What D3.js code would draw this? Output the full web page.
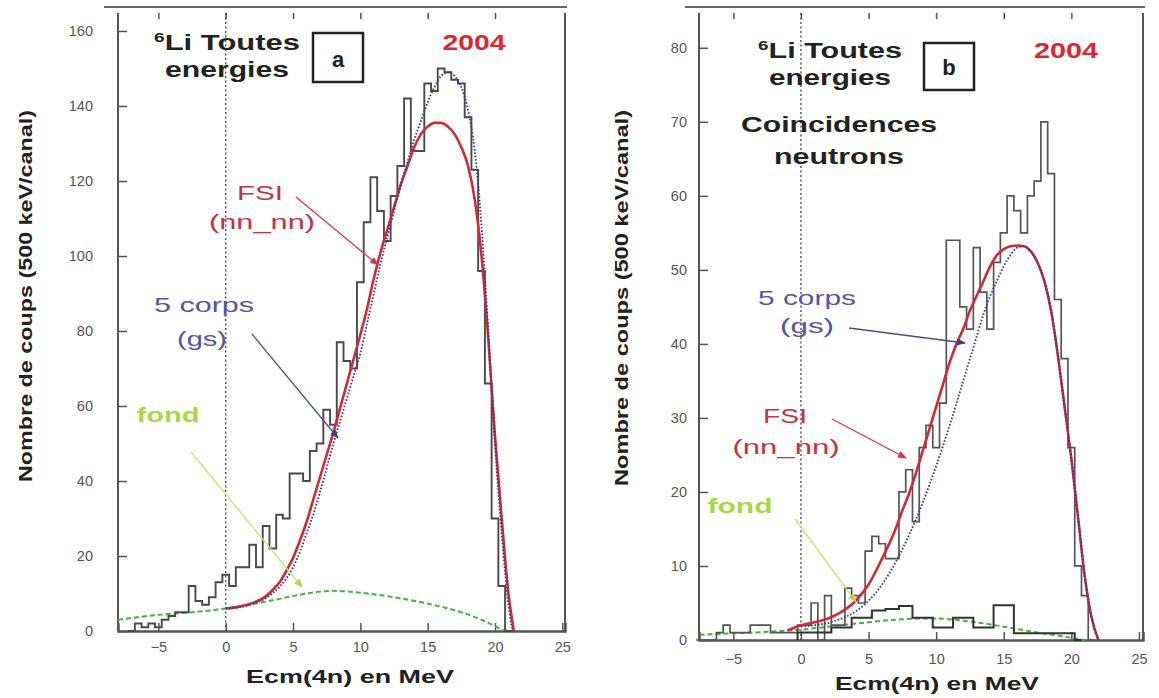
<!DOCTYPE html>
<html><head><meta charset="utf-8">
<script src="https://cdn.jsdelivr.net/npm/d3@7"></script>
<style>body{margin:0;background:#fff} svg{display:block} text{font-family:"Liberation Sans",Arial,sans-serif}</style>
</head><body><svg id="c" width="1159" height="698"></svg>
<script>
// ---------- data ----------
const xTicks = [-5, 0, 5, 10, 15, 20, 25];
const yTicksA = [0, 20, 40, 60, 80, 100, 120, 140, 160];
const yTicksB = [0, 10, 20, 30, 40, 50, 60, 70, 80];
const binWidth = 0.5; // 500 keV / canal

// panel a : histogram (first bin centre -7.0 MeV)
const histAStart = -7.0;
const histA = [0,2,1,2,1,3,4,5,5,12,8,7,9,13,15,12,17,17,23,17,28,22,31,30,42,42,40,48,50,59,55,77,72,70,93,109,121,112,104,116,124,142,128,128,146,144,150,149,147,146,137,123,96,66,30,12,0];
// panel b : histogram (first bin centre -7.5 MeV)
const histBStart = -7.5;
const histB = [0,0,0,1,2,1,1,1,2,2,2,1,1,1,1,2,2,5,0,6,2,2,7,6,5,12,14,13,11,11,20,23,16,26,29,26,32,54,54,45,42,53,47,42,51,55,60,58,55,60,62,70,63,46,38,26,10,6,0];
// panel b : background (fond) histogram (first bin centre 0.0 MeV)
const fondHistBStart = 0.0;
const fondHistB = [1,1,1,1,1,1.7,1.7,1.7,3,3,3,4,4,4.2,4.2,4.6,4.6,3,3,3,1.7,1.7,1.7,3,3,3,1.7,1.7,1.7,4.7,4.7,4.7,0.9,0.9,0.9,0.9,0.9,0.9,0.9,0.9,0.9,0];

// curves [E (MeV), counts]
const fsiA = [[0,6],[1,6.5],[2,7.5],[3,9.3],[3.5,11],[4,13],[4.5,16],[5,19.5],[5.5,24],[6,29],[6.5,35],[7,41],[7.5,47],[8,53],[8.5,59.5],[9,66],[9.5,72.5],[10,79],[10.5,86],[11,94],[11.5,101],[12,107],[12.5,113],[13,119],[13.5,124],[14,129],[14.5,132.5],[15,134.5],[15.5,135.5],[16,135.5],[16.5,134.5],[17,132.5],[17.5,129],[18,124],[18.5,115],[19,100],[19.5,78],[20,52],[20.5,30],[21,10],[21.4,0]];
const gsA = [[0,6],[1,6.3],[2,7.2],[3,8.8],[4,11.8],[4.5,14],[5,17],[5.5,21],[6,26],[6.5,31],[7,37],[7.5,43.5],[8,50],[8.5,56],[9,62],[9.5,68],[10,74],[10.5,82],[11,90],[11.5,98],[12,105],[12.5,112],[13,119],[13.5,125],[14,131],[14.5,136],[15,141],[15.5,145],[16,148],[16.5,149],[17,148],[17.5,145],[18,139],[18.5,128],[19,108],[19.5,80],[20,50],[20.5,26],[21,7],[21.3,0]];
const fondA = [[-8,3],[-5,4.3],[-2.5,5],[0,6],[2.5,7.5],[5,9.3],[7,10.5],[8,10.7],[10,10.2],[12.5,9],[15,7.3],[17.5,5],[19,3],[20,1.3],[20.5,0.4],[21,0]];
const fsiB = [[-1,1.3],[0,2],[1,2.4],[2,2.9],[3,3.8],[4,5.2],[5,7.5],[6,11],[7,15],[7.5,17.5],[8,19.8],[8.5,22.5],[9,25.5],[9.5,28.5],[10,31.5],[10.5,34.5],[11,37.5],[11.5,40],[12,42],[12.5,44.5],[13,46.5],[13.5,48.5],[14,50.5],[14.5,52],[15,52.8],[15.5,53.2],[16,53.3],[16.5,53.2],[17,52.5],[17.5,51],[18,48.5],[18.5,44.5],[19,38.5],[19.5,31.5],[20,24.5],[20.5,16.5],[21,8.5],[21.5,3],[22,0]];
const gsB = [[0,1.8],[1,2],[2,2.3],[3,2.9],[4,3.8],[5,5.3],[6,7.5],[7,10.5],[8,14.2],[9,18.5],[10,23.5],[11,29],[12,35],[12.5,38],[13,41],[13.5,44],[14,46.5],[14.5,48.5],[15,50.5],[15.5,52],[16,53],[16.5,53.2],[17,52.5],[17.5,51],[18,48.5],[18.5,44.5],[19,38.5],[19.5,31.5],[20,24.5],[20.5,16.5],[21,8.5],[21.5,3],[22,0]];
const fondB = [[-7.5,0.7],[-5,0.9],[-2.5,1.1],[0,1.4],[2.5,1.9],[5,2.4],[7.5,2.8],[9,2.9],[10,2.9],[12.5,2.5],[15,1.8],[17.5,1.0],[19,0.6],[20,0.3],[21,0]];

// ---------- drawing ----------
const svg = d3.select("#c");
const defs = svg.append("defs");
function marker(id, color){
  defs.append("marker").attr("id", id).attr("viewBox","0 0 10 10").attr("refX",9).attr("refY",5)
    .attr("markerWidth",9).attr("markerHeight",9).attr("markerUnits","userSpaceOnUse").attr("orient","auto")
    .append("path").attr("d","M0,1 L10,5 L0,9 z").attr("fill", color);
}
marker("mRed","#d0394a"); marker("mBlue","#3c3f80"); marker("mGreen","#b8d24a");

function txt(g, s, x, y, o){
  const t = g.append("text").attr("x", x).attr("y", y)
    .attr("text-anchor", o.anchor || "middle")
    .attr("font-size", o.size).attr("font-weight", o.weight || "normal")
    .attr("fill", o.fill || "#222");
  if (o.sup){ t.append("tspan").attr("font-size", o.size*0.62).attr("dy", -o.size*0.38).text(o.sup);
              t.append("tspan").attr("dy", o.size*0.38).text(s); }
  else t.text(s);
  if (o.width) t.attr("textLength", o.width).attr("lengthAdjust","spacingAndGlyphs");
  if (o.rotate) t.attr("transform", `rotate(${o.rotate},${x},${y})`);
  return t;
}

function histPoints(start, vals){
  const pts = [[start - binWidth/2, 0]];
  vals.forEach((v,i)=>{ const c = start + i*binWidth; pts.push([c-binWidth/2, v]); pts.push([c+binWidth/2, v]); });
  pts.push([start + (vals.length-1)*binWidth + binWidth/2, 0]);
  return pts;
}

function panel(c){
  const g = svg.append("g");
  const x = d3.scaleLinear().domain(c.xDom).range([c.left, c.right]);
  const y = d3.scaleLinear().domain(c.yDom).range([c.bottom, c.top]);
  const line = d3.line().x(d=>x(d[0])).y(d=>y(d[1]));
  const smooth = d3.line().x(d=>x(d[0])).y(d=>y(d[1])).curve(d3.curveMonotoneX);

  // frame
  g.append("line").attr("x1", c.left-14).attr("x2", c.right+2).attr("y1", c.top-6).attr("y2", c.top-6).attr("stroke","#666").attr("stroke-width",2);
  g.append("line").attr("x1", c.left).attr("x2", c.left).attr("y1", c.top).attr("y2", c.bottom).attr("stroke","#555").attr("stroke-width",2);
  g.append("line").attr("x1", c.right).attr("x2", c.right).attr("y1", c.top).attr("y2", c.bottom).attr("stroke","#555").attr("stroke-width",2);

  // bottom axis
  const ax = g.append("g").attr("transform",`translate(0,${c.bottom})`)
    .call(d3.axisBottom(x).tickValues(xTicks).tickSize(-8).tickPadding(13).tickFormat(d3.format("d")));
  ax.select(".domain").attr("stroke","#555").attr("stroke-width",2.5);
  ax.selectAll(".tick line").attr("stroke","#555").attr("stroke-width",1.5);
  ax.selectAll(".tick text").attr("font-size",14.5).attr("fill","#555").attr("font-family","Liberation Sans, Arial, sans-serif").attr("dy", c.xLabDy);
  // top ticks
  const at = g.append("g").attr("transform",`translate(0,${c.top})`)
    .call(d3.axisTop(x).tickValues(xTicks.filter(t=>t<25)).tickSize(-6).tickFormat(""));
  at.select(".domain").remove();
  at.selectAll(".tick line").attr("stroke","#555").attr("stroke-width",1.5);
  // left axis
  const ay = g.append("g").attr("transform",`translate(${c.left},0)`)
    .call(d3.axisLeft(y).tickValues(c.yTicks).tickSize(-9).tickPadding(c.yPad));
  ay.select(".domain").remove();
  ay.selectAll(".tick line").attr("stroke","#555").attr("stroke-width",1.5);
  ay.selectAll(".tick text").attr("font-size",14.5).attr("fill","#555").attr("font-family","Liberation Sans, Arial, sans-serif");

  // zero line
  g.append("line").attr("x1", x(0)).attr("x2", x(0)).attr("y1", c.top).attr("y2", c.bottom)
    .attr("stroke","#444").attr("stroke-width",1.3).attr("stroke-dasharray","2,2.5");

  // curves
  g.append("path").attr("d", smooth(c.fond)).attr("fill","none").attr("stroke","#3cb83c").attr("stroke-width",2).attr("stroke-dasharray","5,3");
  c.hists.forEach(h=>{
    g.append("path").attr("d", line(histPoints(h.start, h.vals))).attr("fill","none")
      .attr("stroke", h.color).attr("stroke-width", h.w);
  });
  g.append("path").attr("d", smooth(c.fsi)).attr("fill","none").attr("stroke","#cf2a3b").attr("stroke-width",2.6);
  g.append("path").attr("d", smooth(c.gs)).attr("fill","none").attr("stroke","#3c3c8c").attr("stroke-width",1.9).attr("stroke-dasharray","1.6,1.8");

  // arrows
  c.arrows.forEach(a=>{
    g.append("line").attr("x1",a[0]).attr("y1",a[1]).attr("x2",a[2]).attr("y2",a[3])
      .attr("stroke",a[4]).attr("stroke-width",1.3).attr("marker-end",`url(#${a[5]})`);
  });
  // texts
  c.texts.forEach(t=> txt(g, t.s, t.x, t.y, t));
  // box label
  g.append("rect").attr("x",c.box[0]).attr("y",c.box[1]).attr("width",c.box[2]).attr("height",c.box[3])
    .attr("fill","none").attr("stroke","#222").attr("stroke-width",2.5);
}

const boldD = {size:22, weight:"bold", fill:"#222"};
panel({
  xDom:[-8,25.2], yDom:[0,164.8], left:118, right:565, top:13, bottom:631, yTicks:yTicksA, yPad:25, xLabDy:"0.55em",
  hists:[{start:histAStart, vals:histA, color:"#4a4a4a", w:1.9}],
  fsi:fsiA, gs:gsA, fond:fondA,
  arrows:[[296,197,378,265,"#d0394a","mRed"],[252,334,338,438,"#4c5078","mBlue"],[191,452,302,587,"#cfdf7a","mGreen"]],
  box:[313,33,50,49],
  texts:[
    {s:"Li Toutes", sup:"6", x:227, y:50, ...boldD, width:146},
    {s:"energies", x:227, y:77, ...boldD, width:124},
    {s:"a", x:338, y:67, ...boldD},
    {s:"2004", x:474, y:50, size:22, weight:"bold", fill:"#dd2630", width:63},
    {s:"FSI", x:260, y:200, size:21, fill:"#c8303f", width:46},
    {s:"(nn_nn)", x:262, y:229, size:21, fill:"#c8303f", width:106},
    {s:"5 corps", x:204, y:312, size:21, fill:"#5555a5", width:100},
    {s:"(gs)", x:202, y:346, size:21, fill:"#5555a5", width:50},
    {s:"fond", x:168, y:422, size:21, weight:"bold", fill:"#a8d844", width:63},
    {s:"Nombre de coups (500 keV/canal)", x:32, y:296, size:19, weight:"bold", fill:"#222", width:372, rotate:-90},
    {s:"Ecm(4n) en MeV", x:350, y:683, size:19, weight:"bold", fill:"#222", width:208}
  ]
});
panel({
  xDom:[-7.54,25.3], yDom:[0,84.7], left:699, right:1143, top:13, bottom:640, yTicks:yTicksB, yPad:12, xLabDy:"0.75em",
  hists:[{start:histBStart, vals:histB, color:"#555", w:1.7},{start:fondHistBStart, vals:fondHistB, color:"#333", w:2}],
  fsi:fsiB, gs:gsB, fond:fondB,
  arrows:[[849,328,965,343,"#4c5078","mBlue"],[832,419,906,458,"#d0394a","mRed"],[795,519,856,602,"#cfdf7a","mGreen"]],
  box:[924,43,50,47],
  texts:[
    {s:"Li Toutes", sup:"6", x:830, y:58, ...boldD, width:144},
    {s:"energies", x:830, y:85, ...boldD, width:122},
    {s:"b", x:949, y:75, ...boldD},
    {s:"2004", x:1066, y:58, size:22, weight:"bold", fill:"#dd2630", width:64},
    {s:"Coincidences", x:839, y:132, ...boldD, width:196},
    {s:"neutrons", x:839, y:164, ...boldD, width:130},
    {s:"5 corps", x:807, y:305, size:21, fill:"#5555a5", width:98},
    {s:"(gs)", x:807, y:333, size:21, fill:"#5555a5", width:54},
    {s:"FSI", x:785, y:423, size:21, fill:"#c8303f", width:44},
    {s:"(nn_nn)", x:786, y:454, size:21, fill:"#c8303f", width:107},
    {s:"fond", x:740, y:513, size:21, weight:"bold", fill:"#a8d844", width:65},
    {s:"Nombre de coups (500 keV/canal)", x:628, y:298, size:19, weight:"bold", fill:"#222", width:376, rotate:-90},
    {s:"Ecm(4n) en MeV", x:937, y:690, size:19, weight:"bold", fill:"#222", width:204}
  ]
});
</script></body></html>
